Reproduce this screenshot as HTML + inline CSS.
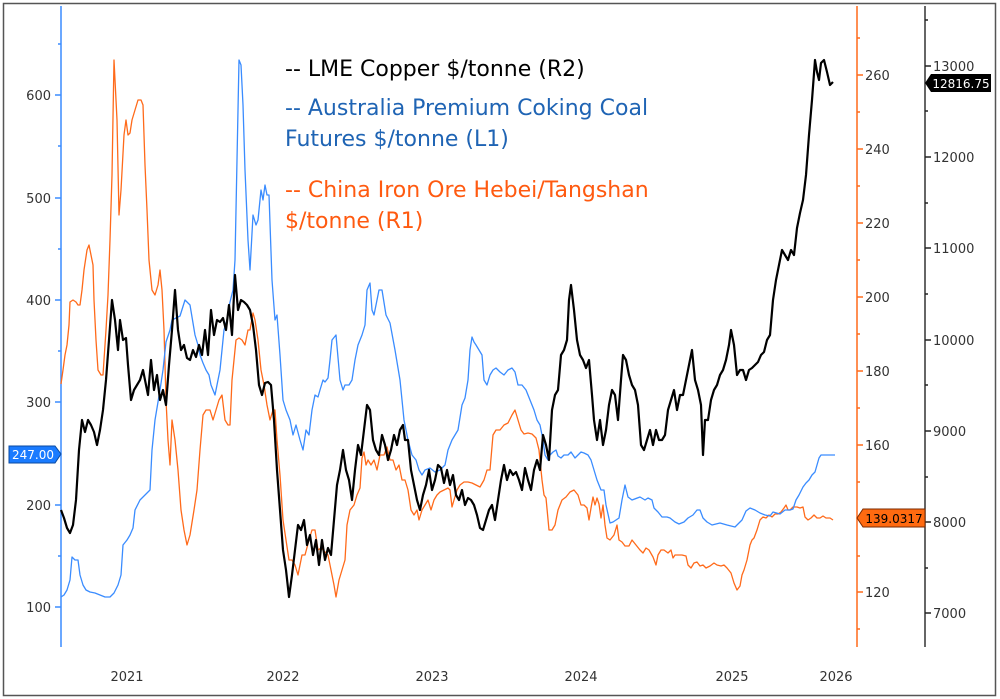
<!DOCTYPE html>
<html><head><meta charset="utf-8"><style>
html,body{margin:0;padding:0;background:#fff;}
svg{display:block;font-family:"DejaVu Sans","Liberation Sans",sans-serif;}
</style></head><body>
<svg width="1000" height="699" viewBox="0 0 1000 699" xmlns="http://www.w3.org/2000/svg">
<rect x="0" y="0" width="1000" height="699" fill="#fff"/>
<rect x="3.5" y="3.5" width="992" height="692" fill="none" stroke="#555" stroke-width="1.5"/>

<line x1="61" y1="6" x2="61" y2="647" stroke="#3a8cff" stroke-width="1.5"/>
<line x1="857" y1="6" x2="857" y2="647" stroke="#ff6a1a" stroke-width="1.5"/>
<line x1="925" y1="6" x2="925" y2="647" stroke="#333" stroke-width="1.5"/>

<g stroke="#3a8cff" stroke-width="1.5">
<line x1="58" y1="44" x2="61" y2="44"/><line x1="55" y1="95" x2="61" y2="95"/>
<line x1="58" y1="146" x2="61" y2="146"/><line x1="55" y1="198" x2="61" y2="198"/>
<line x1="58" y1="249" x2="61" y2="249"/><line x1="55" y1="300" x2="61" y2="300"/>
<line x1="58" y1="351" x2="61" y2="351"/><line x1="55" y1="402" x2="61" y2="402"/>
<line x1="58" y1="453" x2="61" y2="453"/><line x1="55" y1="505" x2="61" y2="505"/>
<line x1="58" y1="556" x2="61" y2="556"/><line x1="55" y1="607" x2="61" y2="607"/>
</g>
<g font-size="13" fill="#333" text-anchor="end">
<text x="51" y="100">600</text><text x="51" y="203">500</text><text x="51" y="305">400</text>
<text x="51" y="407">300</text><text x="51" y="510">200</text><text x="51" y="612">100</text>
</g>

<g stroke="#ff6a1a" stroke-width="1.5">
<line x1="857" y1="38" x2="860" y2="38"/><line x1="857" y1="75" x2="863" y2="75"/>
<line x1="857" y1="112" x2="860" y2="112"/><line x1="857" y1="149" x2="863" y2="149"/>
<line x1="857" y1="186" x2="860" y2="186"/><line x1="857" y1="223" x2="863" y2="223"/>
<line x1="857" y1="260" x2="860" y2="260"/><line x1="857" y1="297" x2="863" y2="297"/>
<line x1="857" y1="334" x2="860" y2="334"/><line x1="857" y1="371" x2="863" y2="371"/>
<line x1="857" y1="408" x2="860" y2="408"/><line x1="857" y1="445" x2="863" y2="445"/>
<line x1="857" y1="482" x2="860" y2="482"/><line x1="857" y1="556" x2="860" y2="556"/>
<line x1="857" y1="592" x2="863" y2="592"/><line x1="857" y1="629" x2="860" y2="629"/>
</g>
<g font-size="13" fill="#333">
<text x="865" y="80">260</text><text x="865" y="154">240</text><text x="865" y="228">220</text>
<text x="865" y="302">200</text><text x="865" y="376">180</text><text x="865" y="450">160</text>
<text x="865" y="597">120</text>
</g>

<g stroke="#222" stroke-width="1.5">
<line x1="925" y1="20" x2="928" y2="20"/><line x1="925" y1="66" x2="931" y2="66"/>
<line x1="925" y1="111" x2="928" y2="111"/><line x1="925" y1="157" x2="931" y2="157"/>
<line x1="925" y1="203" x2="928" y2="203"/><line x1="925" y1="248" x2="931" y2="248"/>
<line x1="925" y1="294" x2="928" y2="294"/><line x1="925" y1="340" x2="931" y2="340"/>
<line x1="925" y1="385" x2="928" y2="385"/><line x1="925" y1="431" x2="931" y2="431"/>
<line x1="925" y1="477" x2="928" y2="477"/><line x1="925" y1="522" x2="931" y2="522"/>
<line x1="925" y1="568" x2="928" y2="568"/><line x1="925" y1="613" x2="931" y2="613"/>
</g>
<g font-size="13" fill="#333">
<text x="933" y="71">13000</text><text x="933" y="162">12000</text><text x="933" y="253">11000</text>
<text x="933" y="345">10000</text><text x="933" y="436">9000</text><text x="933" y="527">8000</text>
<text x="933" y="618">7000</text>
</g>

<g font-size="13" fill="#333" text-anchor="middle">
<text x="127" y="681">2021</text><text x="283" y="681">2022</text><text x="432" y="681">2023</text>
<text x="581" y="681">2024</text><text x="732" y="681">2025</text><text x="836" y="681">2026</text>
</g>

<polyline fill="none" stroke="#ff6a1a" stroke-width="1.3" stroke-linejoin="round" points="61,384 63,370 65,355 67,345 69,325 70,302 73,300 76,302 78,305 80,305 82,290 84,270 87,250 89,245 91,255 93,265 94,300 96,340 98,370 101,375 103,375 106,330 108,295 110,240 112,175 114,60 117,120 119,215 121,190 124,135 126,120 128,135 130,133 132,120 135,110 138,100 141,100 143,105 145,165 147,210 149,260 152,290 155,295 158,285 160,270 162,290 164,330 166,400 168,440 170,465 172,420 175,440 178,470 181,510 184,530 187,545 190,535 194,510 197,490 200,450 203,415 206,410 210,410 213,420 216,410 219,400 222,395 225,420 228,425 230,425 232,380 236,340 239,338 242,340 245,345 248,330 250,330 253,313 255,320 258,340 261,370 264,385 267,405 270,420 273,410 275,410 277,440 280,475 283,520 286,540 289,560 292,560 295,565 298,575 302,555 305,555 309,540 312,530 315,530 318,550 321,548 324,551 328,555 331,570 334,585 336,597 339,580 342,570 345,560 347,525 350,510 354,505 357,495 360,488 362,458 364,452 366,465 368,460 371,465 374,460 377,470 380,455 384,455 387,447 390,460 393,460 396,470 399,465 402,480 405,480 408,490 411,510 414,515 417,510 419,520 422,510 425,505 428,500 431,510 434,500 437,495 440,492 444,490 448,488 450,490 452,507 454,500 457,490 460,485 464,482 468,482 472,483 476,485 480,487 484,480 487,470 490,470 493,435 496,430 500,430 504,425 508,423 512,415 515,410 518,420 521,430 524,434 528,433 532,434 536,438 539,450 542,480 544,495 546,498 549,530 552,530 555,525 558,510 562,500 566,497 570,492 574,490 578,495 581,505 584,505 587,508 589,520 591,508 593,497 595,505 597,498 599,504 601,518 603,505 605,525 607,538 610,540 614,535 617,525 619,540 622,542 625,546 629,546 632,540 636,545 640,550 643,553 646,548 649,550 653,557 656,565 658,555 661,550 664,550 668,553 671,550 673,558 675,555 678,555 682,555 686,556 688,565 691,568 694,563 697,562 700,566 703,565 706,568 710,566 714,563 717,565 721,566 724,565 727,568 731,573 734,583 737,590 740,586 742,575 744,570 747,560 750,545 752,540 754,538 757,530 760,520 763,517 766,518 769,515 772,517 775,514 778,514 781,512 784,508 786,505 788,510 790,510 793,507 797,507 800,508 803,507 805,517 808,520 811,518 814,515 817,518 820,518 823,516 826,518 830,518 833,520"/>

<polyline fill="none" stroke="#3a8cff" stroke-width="1.3" stroke-linejoin="round" points="61,597 64,595 67,590 70,580 72,557 75,560 78,560 80,575 83,585 86,590 90,592 95,593 100,595 105,597 110,597 114,593 118,585 121,575 123,545 127,540 130,535 133,528 135,510 140,500 145,495 150,490 152,450 155,420 160,390 163,370 166,342 170,330 172,320 176,318 180,316 185,300 190,305 195,335 198,345 200,355 203,363 206,370 209,375 211,385 213,390 215,395 217,385 220,370 224,330 227,320 230,302 233,290 235,260 237,160 239,60 241,65 243,105 245,170 248,240 250,270 253,215 256,225 258,220 261,190 263,200 265,185 267,195 269,195 272,280 275,320 277,315 280,355 283,400 286,410 290,420 293,435 296,425 300,440 303,450 306,430 309,435 312,410 315,395 318,397 320,390 323,380 325,382 328,378 330,360 332,340 336,335 340,380 343,390 345,385 349,385 352,380 355,360 358,345 362,335 365,325 367,290 370,283 372,310 374,315 377,300 379,290 382,290 386,315 390,323 395,350 400,380 404,420 408,440 412,455 416,460 419,470 422,475 425,470 430,468 435,472 440,470 445,465 448,450 452,440 458,430 462,405 465,398 468,380 470,350 472,337 474,342 476,345 479,350 482,355 484,380 487,385 490,375 493,370 496,368 500,372 504,375 508,370 512,368 515,372 518,385 522,385 526,390 530,400 534,410 537,420 540,425 543,440 545,455 548,460 550,455 553,452 556,450 558,456 561,458 564,455 568,455 571,452 575,458 578,455 581,452 584,453 588,455 591,460 594,470 597,480 601,490 604,490 606,505 610,523 613,522 616,520 619,518 622,500 625,485 628,497 632,500 640,497 645,500 648,498 652,500 654,508 658,512 662,517 667,517 670,518 675,522 679,524 684,522 688,518 693,515 697,510 700,510 703,518 707,522 712,525 720,523 727,525 735,527 742,520 746,511 750,508 755,510 760,513 765,515 770,516 773,512 780,514 785,510 790,510 793,509 796,500 799,495 803,487 806,483 809,480 812,475 815,472 817,465 819,458 821,455 827,455 835,455"/>

<polyline fill="none" stroke="#000" stroke-width="2.2" stroke-linejoin="round" points="61,510 64,518 67,528 70,533 73,525 76,500 79,450 82,420 85,432 88,420 91,425 94,432 97,445 100,430 103,410 106,380 109,340 112,300 115,320 118,350 120,320 123,340 126,338 128,365 131,400 134,390 137,385 140,380 143,370 146,385 148,395 151,360 154,390 157,375 160,400 163,390 166,405 169,365 172,330 175,290 178,330 181,350 184,345 187,358 190,360 193,350 196,357 199,345 202,355 205,330 208,355 211,310 214,335 217,320 220,322 223,318 226,330 229,305 232,335 235,275 238,310 241,300 244,302 247,305 250,310 253,325 256,350 259,385 262,395 265,383 268,382 271,385 274,420 277,470 280,510 283,550 286,570 289,597 292,575 295,550 298,525 301,530 304,520 307,545 310,535 313,555 316,540 319,565 322,540 325,560 328,548 331,555 334,520 337,485 340,470 343,450 346,470 349,480 352,500 355,470 358,445 361,455 364,430 367,405 370,410 373,440 376,450 379,455 382,435 385,445 388,460 391,450 394,435 397,445 400,430 403,425 405,440 408,440 411,470 414,485 417,500 420,510 423,495 426,485 429,470 432,490 435,480 438,465 441,468 444,483 447,470 450,485 453,475 456,495 459,500 462,490 465,505 468,498 471,500 474,505 477,515 480,528 483,530 486,520 489,510 492,505 495,520 498,500 501,480 504,465 507,480 510,470 513,475 516,472 519,480 522,490 525,468 528,480 531,490 534,470 537,460 540,470 543,435 546,445 549,460 552,410 555,395 558,390 561,355 564,350 567,340 569,300 571,285 574,310 577,340 580,355 583,360 586,368 589,360 592,395 594,420 597,440 600,420 603,445 606,430 609,405 612,390 615,395 618,420 621,380 623,355 626,360 629,375 632,385 635,390 638,405 641,445 644,450 647,440 650,430 653,445 656,430 659,440 662,440 665,435 668,410 671,400 674,390 677,410 680,395 683,395 686,380 689,365 692,350 695,380 698,390 701,405 703,455 705,420 708,420 711,400 714,390 717,385 720,375 723,370 726,360 729,345 731,330 734,345 737,375 740,370 743,370 746,380 749,370 752,368 755,365 758,362 761,355 764,352 767,340 770,335 773,300 776,280 779,265 782,250 785,255 788,260 791,250 794,255 797,228 800,213 803,200 806,175 809,135 812,100 815,60 817,72 819,80 821,63 824,60 827,72 830,85 833,82"/>

<g font-size="22">
<text x="285" y="76" fill="#000">-- LME Copper $/tonne (R2)</text>
<text x="285" y="115" fill="#1f64b4">-- Australia Premium Coking Coal</text>
<text x="285" y="146" fill="#1f64b4">Futures $/tonne (L1)</text>
<text x="285" y="197" fill="#ff5a10">-- China Iron Ore Hebei/Tangshan</text>
<text x="285" y="228" fill="#ff5a10">$/tonne (R1)</text>
</g>

<path d="M9,446 H55 L61,454 L55,463 H9 Z" fill="#1a7bff" stroke="#0a4aa0" stroke-width="1"/>
<text x="33" y="459" font-size="12" fill="#fff" text-anchor="middle">247.00</text>
<path d="M857,518 L863,509 H925 V527 H863 Z" fill="#ff6a10" stroke="#7a2a00" stroke-width="1"/>
<text x="894" y="523" font-size="12" fill="#000" text-anchor="middle">139.0317</text>
<path d="M925,83 L931,74 H991 V92 H931 Z" fill="#000"/>
<text x="961" y="88" font-size="12" fill="#fff" text-anchor="middle">12816.75</text>
</svg>
</body></html>
